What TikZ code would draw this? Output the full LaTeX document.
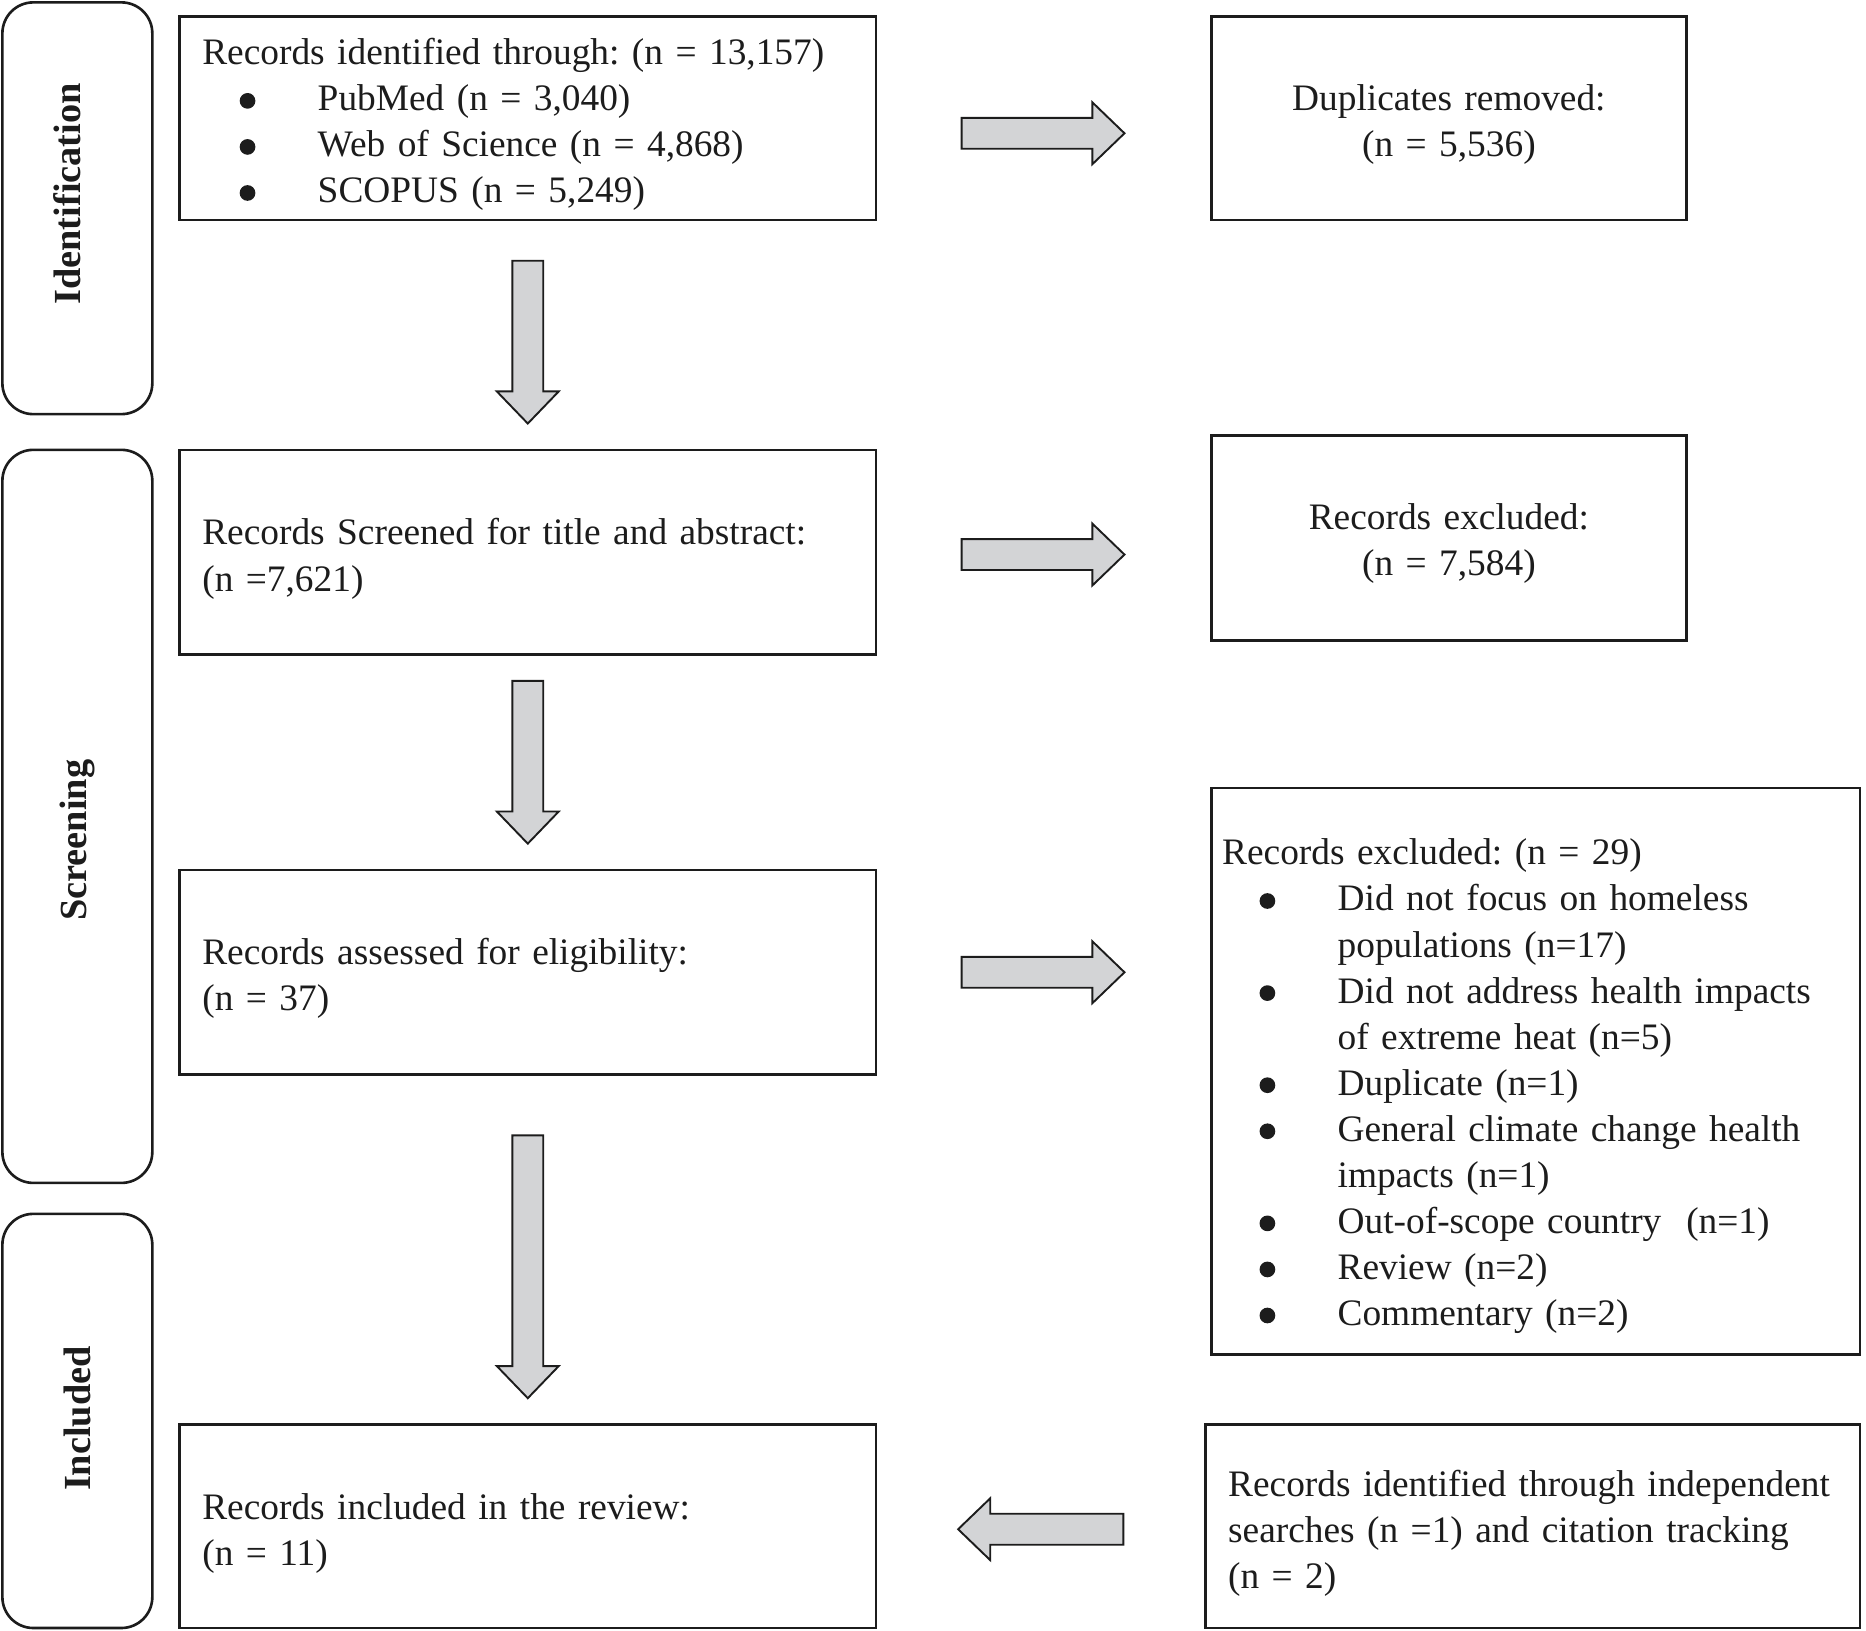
\documentclass[tikz,border=0pt]{standalone}
\usepackage{fontspec}
\setmainfont{Liberation Serif}
\usetikzlibrary{calc}
\definecolor{arrowfill}{RGB}{211,212,214}
\definecolor{ink}{RGB}{28,28,28}
\frenchspacing
\newcommand{\bdot}{\tikz[baseline=-4.2pt]\fill[ink] (0pt,0pt) circle[radius=3.3pt];}
\newcommand{\bitem}[1]{\makebox[48.5pt][l]{\hspace{15.7pt}\bdot}#1}
\newcommand{\contline}[1]{\hspace*{48.5pt}#1}
\newcommand{\fs}[1]{\rule{0pt}{#1}}
\newcommand{\ls}{\rule[-4pt]{0pt}{4pt}}
\newcommand{\blockarrow}[2]{%
  \coordinate (bah) at ($(#2)!13.5pt!(#1)$);
  \draw[blockarr] ($(#1)!6.5pt!90:(#2)$) -- ($(bah)!6.5pt!90:(#2)$) -- ($(bah)!13pt!90:(#2)$) -- (#2)
    -- ($(bah)!13pt!-90:(#2)$) -- ($(bah)!6.5pt!-90:(#2)$) -- ($(#1)!6.5pt!-90:(#2)$) -- cycle;}
\tikzset{
  txt/.style={font=\fontsize{15.7}{19.35}\selectfont, text=ink},
  box/.style={txt, draw=ink, line width=1.1pt, rectangle, inner ysep=0pt},
  leftbox/.style={box, align=left},
  centbox/.style={box, align=center},
  stage/.style={draw=ink, line width=1.1pt, rounded corners=13pt, rectangle, minimum width=63pt},
  stagelabel/.style={rotate=90, anchor=base, font=\bfseries\fontsize{16.1}{19.35}\selectfont, text=ink, inner sep=0pt},
  blockarr/.style={fill=arrowfill, draw=ink, line width=0.8pt, line join=miter}
}
\begin{document}
\begin{tikzpicture}[x=0.5pt,y=-0.5pt]
\useasboundingbox (0,0) rectangle (1568,1370);

% stage boxes
\node[stage, minimum height=173pt] (sid) at (65,175) {};
\node[stage, minimum height=308pt] (ssc) at (65,686) {};
\node[stage, minimum height=174pt] (sin) at (65,1194) {};
\node[stagelabel] (lid) at (68,163) {Identification};
\node[stagelabel] (lsc) at (73,706) {Screening};
\node[stagelabel] (lin) at (76,1192) {Included};

% main column
\node[leftbox, minimum width=292.5pt, minimum height=85.5pt, inner xsep=9.5pt, text width=273.5pt] (b1) at (443.5,99.5)
 {\fs{17pt}Records identified through: (n = 13,157)\\
  \bitem{PubMed (n = 3,040)}\\
  \bitem{Web of Science (n = 4,868)}\\
  \bitem{SCOPUS (n = 5,249)}\ls};
\node[leftbox, minimum width=292.5pt, minimum height=86pt, inner xsep=9.5pt, text width=273.5pt] (b2) at (443.5,464)
 {\fs{17.3pt}Records Screened for title and abstract:\\(n =7,621)\ls};
\node[leftbox, minimum width=292.5pt, minimum height=86pt, inner xsep=9.5pt, text width=273.5pt] (b3) at (443.5,817)
 {\fs{16.8pt}Records assessed for eligibility:\\(n = 37)\ls};
\node[leftbox, minimum width=292.5pt, minimum height=85.5pt, inner xsep=9.5pt, text width=273.5pt] (b4) at (443.5,1282.5)
 {\fs{17.3pt}Records included in the review:\\(n = 11)\ls};

% right column
\node[centbox, minimum width=199.5pt, minimum height=85.5pt, text width=180pt] (dup) at (1217.5,99.5)
 {\fs{16.8pt}Duplicates removed:\\(n = 5,536)\ls};
\node[centbox, minimum width=199.5pt, minimum height=86pt, text width=180pt] (e1) at (1217.5,452)
 {\fs{16.3pt}Records excluded:\\(n = 7,584)\ls};
\node[leftbox, minimum width=272.5pt, minimum height=238pt, inner xsep=4.5pt, text width=263.5pt] (e2) at (1290.5,900)
 {\fs{24.3pt}Records excluded: (n = 29)\\
  \bitem{Did not focus on homeless}\\
  \contline{populations (n=17)}\\
  \bitem{Did not address health impacts}\\
  \contline{of extreme heat (n=5)}\\
  \bitem{Duplicate (n=1)}\\
  \bitem{General climate change health}\\
  \contline{impacts (n=1)}\\
  \bitem{Out-of-scope country\ \ (n=1)}\\
  \bitem{Review (n=2)}\\
  \bitem{Commentary (n=2)}\ls};
\node[leftbox, minimum width=275pt, minimum height=85.5pt, inner xsep=9.5pt, text width=256pt] (ex) at (1288,1282.5)
 {\fs{17.8pt}\mbox{Records identified through independent}\\\mbox{searches (n =1) and citation tracking}\\(n = 2)\ls};

% block arrows
\coordinate (d1s) at ($(b1.south)+(0,33)$);
\coordinate (d1e) at ($(b2.north)+(0,-21)$);
\blockarrow{d1s}{d1e}
\coordinate (d2s) at ($(b2.south)+(0,21)$);
\coordinate (d2e) at ($(b3.north)+(0,-21)$);
\blockarrow{d2s}{d2e}
\coordinate (d3s) at ($(b3.south)+(0,50)$);
\coordinate (d3e) at ($(b4.north)+(0,-21)$);
\blockarrow{d3s}{d3e}
\coordinate (r1s) at ($(b1.east)+(71,12.5)$);
\coordinate (r1e) at ($(dup.west)+(-72,12.5)$);
\blockarrow{r1s}{r1e}
\coordinate (r2s) at ($(b2.east)+(71,2)$);
\coordinate (r2e) at ($(e1.west)+(-72,14)$);
\blockarrow{r2s}{r2e}
\coordinate (r3s) at ($(b3.east)+(71,0)$);
\coordinate (r3e) at ($(e2.west)+(-72,-83)$);
\blockarrow{r3s}{r3e}
\coordinate (l4s) at ($(ex.west)+(-68,2.5)$);
\coordinate (l4e) at ($(b4.east)+(68,2.5)$);
\blockarrow{l4s}{l4e}
\end{tikzpicture}
\end{document}
